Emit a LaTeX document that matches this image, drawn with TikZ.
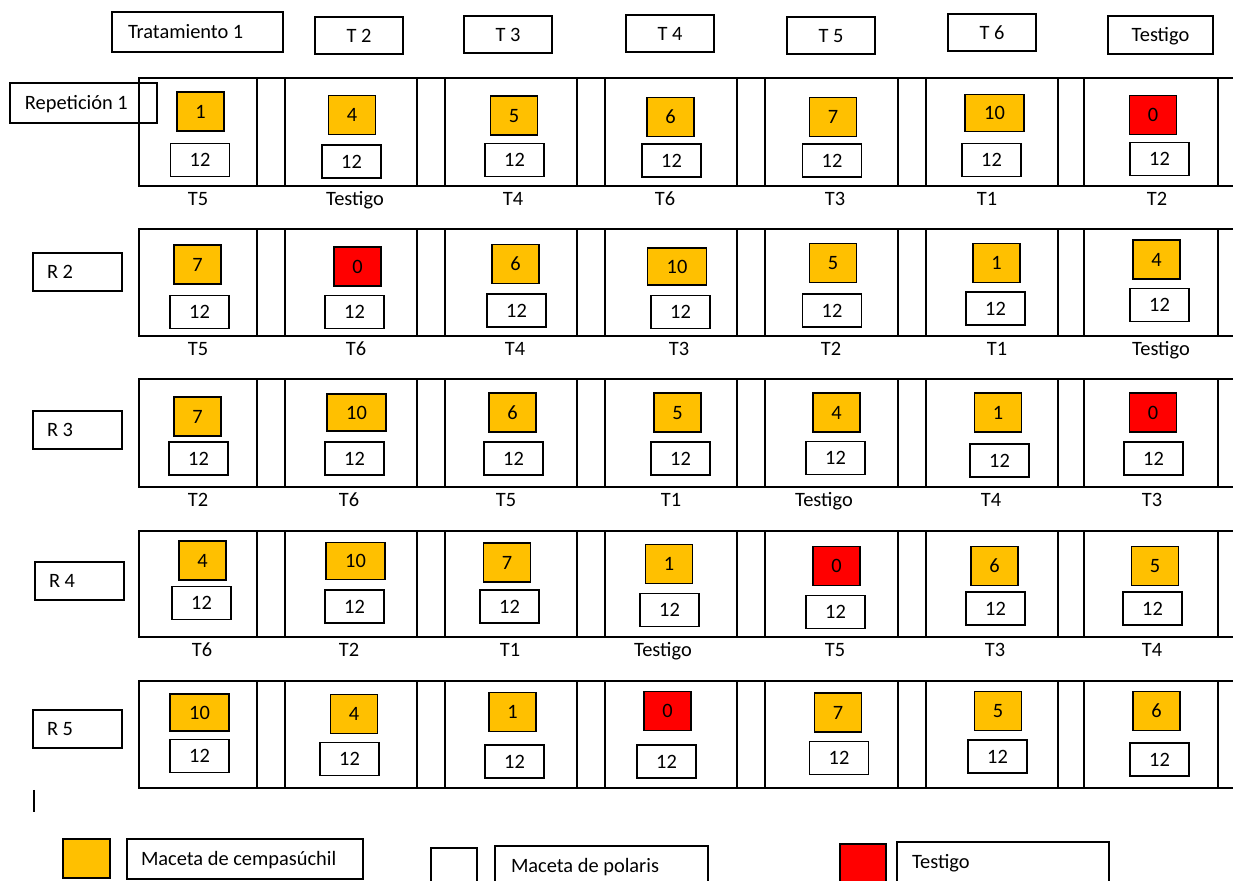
\documentclass[tikz,border=0pt]{standalone}
\usepackage{fontspec}
\setmainfont{Carlito}
\definecolor{potorange}{HTML}{FFC000}
\definecolor{potred}{HTML}{FF0000}
\tikzset{
  base/.style={draw=black, line width=0.65pt, inner sep=0pt, text height=6.6pt, text depth=0pt, font=\fontsize{10.2}{12}\selectfont},
  potO/.style={base, fill=potorange, minimum width=23.5pt, minimum height=19.5pt},
  potT/.style={base, fill=potorange, minimum width=29.5pt, minimum height=18.5pt},
  potR/.style={base, fill=potred, minimum width=23.5pt, minimum height=19.5pt},
  potW/.style={base, fill=white, minimum width=29.5pt, minimum height=16.5pt},
  hbox/.style={base, minimum width=44pt, minimum height=18.5pt},
  lbox/.style={base, align=flush left},
  tlabel/.style={inner sep=0pt, text height=6.6pt, text depth=0pt, font=\fontsize{10.2}{12}\selectfont},
  fieldline/.style={line width=0.65pt},
}
\newcommand\potnode[5]{\node[#2] (#1) at (#3,#4) {#5};}
\begin{document}
\begin{tikzpicture}[x=0.5pt, y=-0.5pt]
\useasboundingbox (0,0) rectangle (1233,881);
\clip (0,0) rectangle (1233,881);
\fill[white] (0,0) rectangle (1233,881);

% header boxes
\node[lbox, text width=69.5pt, inner xsep=8pt, minimum height=20pt] (trat) at (197.5,32) {Tratamiento 1};
\node[hbox] (h2) at (359,35.5) {T 2};
\node[hbox] (h3) at (508,34.5) {T 3};
\node[hbox] (h4) at (670,33.5) {T 4};
\node[hbox] (h5) at (831,35.5) {T 5};
\node[hbox] (h6) at (992,32.5) {T 6};
\node[hbox, minimum width=52.5pt, minimum height=19pt] (htest) at (1160.5,35) {Testigo};

% row labels
\node[lbox, text width=58.5pt, inner xsep=7.5pt, minimum height=20pt] (rep1) at (83.5,103) {Repetición 1};
\node[lbox, text width=30.5pt, inner xsep=7pt, minimum height=19pt] (rep2) at (77.5,272) {R 2};
\node[lbox, text width=30.5pt, inner xsep=7pt, minimum height=19pt] (rep3) at (77.5,430) {R 3};
\node[lbox, text width=30.5pt, inner xsep=7pt, minimum height=19pt] (rep4) at (79.5,581) {R 4};
\node[lbox, text width=30.5pt, inner xsep=7pt, minimum height=19pt] (rep5) at (77.5,729) {R 5};

% field rows
\foreach \t/\b in {78/186, 229/336, 379/487, 531/637, 681/788}{
  \draw[fieldline] (1240,\t) -- (139,\t) -- (139,\b) -- (1240,\b);
  \foreach \xx in {257,285,417,445,577,605,737,765,898,926,1058,1084,1218}{
    \draw[fieldline] (\xx,\t) -- (\xx,\b);
  }
}

% row 1
\potnode{a1o}{potO}{200.5}{111.5}{1}   \potnode{a1w}{potW}{200}{160}{12}
\potnode{a2o}{potO}{352}{115}{4}       \potnode{a2w}{potW}{351.5}{161.5}{12}
\potnode{a3o}{potO}{514}{115.5}{5}     \potnode{a3w}{potW}{514.5}{160}{12}
\potnode{a4o}{potO}{670.5}{117}{6}     \potnode{a4w}{potW}{671.5}{160.5}{12}
\potnode{a5o}{potO}{833}{117}{7}       \potnode{a5w}{potW}{832}{160.5}{12}
\potnode{a6o}{potT}{994.5}{113}{10}    \potnode{a6w}{potW}{991.5}{160}{12}
\potnode{a7o}{potR}{1153}{115}{0}      \potnode{a7w}{potW}{1159.5}{159}{12}
% row 2
\potnode{b1o}{potO}{197.5}{264.5}{7}   \potnode{b1w}{potW}{199.5}{312}{12}
\potnode{b2o}{potR}{357.5}{266.5}{0}   \potnode{b2w}{potW}{354.5}{312}{12}
\potnode{b3o}{potO}{515.5}{264}{6}     \potnode{b3w}{potW}{516.5}{310.5}{12}
\potnode{b4o}{potT}{677}{266.5}{10}    \potnode{b4w}{potW}{680.5}{312}{12}
\potnode{b5o}{potO}{833}{263}{5}       \potnode{b5w}{potW}{832}{310.5}{12}
\potnode{b6o}{potO}{996.5}{263}{1}     \potnode{b6w}{potW}{995.5}{308.5}{12}
\potnode{b7o}{potO}{1156.5}{259.5}{4}  \potnode{b7w}{potW}{1159.5}{305}{12}
% row 3
\potnode{c1o}{potO}{197.5}{416.5}{7}   \potnode{c1w}{potW}{198.5}{458.5}{12}
\potnode{c2o}{potT}{356.5}{412.5}{10}  \potnode{c2w}{potW}{354.5}{458.5}{12}
\potnode{c3o}{potO}{512.5}{412.5}{6}   \potnode{c3w}{potW}{513.5}{458.5}{12}
\potnode{c4o}{potO}{677.5}{412.5}{5}   \potnode{c4w}{potW}{680.5}{458.5}{12}
\potnode{c5o}{potO}{836.5}{412.5}{4}   \potnode{c5w}{potW}{835.5}{458}{12}
\potnode{c6o}{potO}{998}{412.5}{1}     \potnode{c6w}{potW}{999.5}{460.5}{12}
\potnode{c7o}{potR}{1153}{412.5}{0}    \potnode{c7w}{potW}{1153.5}{458.5}{12}
% row 4
\potnode{d1o}{potO}{202.5}{560.5}{4}   \potnode{d1w}{potW}{201.5}{603}{12}
\potnode{d2o}{potT}{355.5}{561}{10}    \potnode{d2w}{potW}{354.5}{606.5}{12}
\potnode{d3o}{potO}{507}{562.5}{7}     \potnode{d3w}{potW}{509.5}{606.5}{12}
\potnode{d4o}{potO}{669}{564}{1}       \potnode{d4w}{potW}{669.5}{610}{12}
\potnode{d5o}{potR}{836.5}{566}{0}     \potnode{d5w}{potW}{835.5}{612}{12}
\potnode{d6o}{potO}{994.5}{566}{6}     \potnode{d6w}{potW}{995.5}{608.5}{12}
\potnode{d7o}{potO}{1155}{566}{5}      \potnode{d7w}{potW}{1152.5}{608.5}{12}
% row 5
\potnode{e1o}{potT}{199.5}{712.5}{10}  \potnode{e1w}{potW}{199.5}{756}{12}
\potnode{e2o}{potO}{354}{714}{4}       \potnode{e2w}{potW}{349.5}{759}{12}
\potnode{e3o}{potO}{512.5}{712}{1}     \potnode{e3w}{potW}{514.5}{761.5}{12}
\potnode{e4o}{potR}{667.5}{711}{0}     \potnode{e4w}{potW}{666.5}{761.5}{12}
\potnode{e5o}{potO}{838}{712.5}{7}     \potnode{e5w}{potW}{839}{758}{12}
\potnode{e6o}{potO}{998}{711}{5}       \potnode{e6w}{potW}{997.5}{756.5}{12}
\potnode{e7o}{potO}{1156.5}{711}{6}    \potnode{e7w}{potW}{1159.5}{759.5}{12}

% labels under rows
\node[tlabel] (la1) at (198,199) {T5};
\node[tlabel] (la2) at (355,199) {Testigo};
\node[tlabel] (la3) at (513,199) {T4};
\node[tlabel] (la4) at (665,199) {T6};
\node[tlabel] (la5) at (835,199) {T3};
\node[tlabel] (la6) at (987,199) {T1};
\node[tlabel] (la7) at (1157,199) {T2};

\node[tlabel] (lb1) at (198,349) {T5};
\node[tlabel] (lb2) at (356,349) {T6};
\node[tlabel] (lb3) at (515,349) {T4};
\node[tlabel] (lb4) at (679,349) {T3};
\node[tlabel] (lb5) at (831,349) {T2};
\node[tlabel] (lb6) at (997,349) {T1};
\node[tlabel] (lb7) at (1161,349) {Testigo};

\node[tlabel] (lc1) at (198,500) {T2};
\node[tlabel] (lc2) at (349,500) {T6};
\node[tlabel] (lc3) at (506,500) {T5};
\node[tlabel] (lc4) at (671,500) {T1};
\node[tlabel] (lc5) at (824,500) {Testigo};
\node[tlabel] (lc6) at (991,500) {T4};
\node[tlabel] (lc7) at (1152,500) {T3};

\node[tlabel] (ld1) at (202,650) {T6};
\node[tlabel] (ld2) at (349,650) {T2};
\node[tlabel] (ld3) at (510,650) {T1};
\node[tlabel] (ld4) at (663,650) {Testigo};
\node[tlabel] (ld5) at (835,650) {T5};
\node[tlabel] (ld6) at (995,650) {T3};
\node[tlabel] (ld7) at (1152,650) {T4};

% stray mark
\draw[line width=0.6pt] (34,790) -- (34,812);

% legend
\node[potO, minimum width=23.5pt, minimum height=19.5pt] (legO) at (86.5,858.5) {};
\node[lbox, text width=104pt, inner xsep=7pt, minimum height=20pt] (legOt) at (245,859) {Maceta de cempasúchil};
\node[potW, minimum width=23pt, minimum height=19.5pt] (legW) at (454,867.5) {};
\node[lbox, text width=90.5pt, inner xsep=8pt, minimum height=20pt] (legWt) at (601.5,866) {Maceta de polaris};
\node[potR, minimum width=23pt, minimum height=19.5pt] (legR) at (863,863.5) {};
\node[lbox, text width=91pt, inner xsep=7.5pt, minimum height=20pt] (legRt) at (1003,862) {Testigo};
\end{tikzpicture}
\end{document}
